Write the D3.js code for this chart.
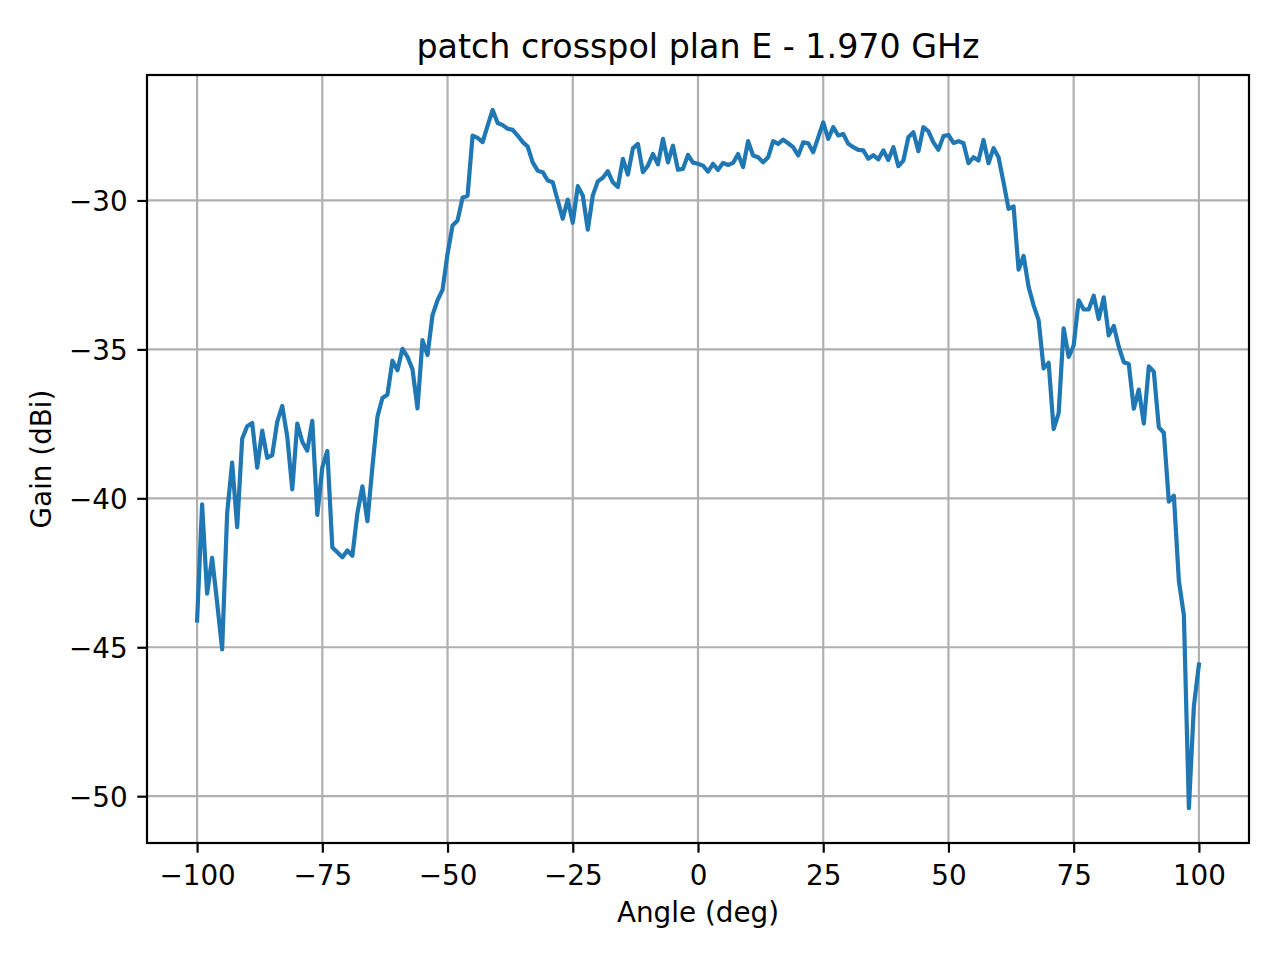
<!DOCTYPE html>
<html>
<head>
<meta charset="utf-8">
<script src="https://cdn.jsdelivr.net/npm/d3@7"></script>
<style>
  body { margin: 0; background: #fff; }
  text { font-family: "DejaVu Sans", sans-serif; fill: #000; }
</style>
</head>
<body>
<div id="chart"></div>
<script>
var angles = [
  -100,-99,-98,-97,-96,-95,-94,-93,-92,-91,-90,-89,-88,-87,-86,-85,-84,-83,-82,-81,
  -80,-79,-78,-77,-76,-75,-74,-73,-72,-71,-70,-69,-68,-67,-66,-65,-64,-63,-62,-61,
  -60,-59,-58,-57,-56,-55,-54,-53,-52,-51,-50,-49,-48,-47,-46,-45,-44,-43,-42,-41,
  -40,-39,-38,-37,-36,-35,-34,-33,-32,-31,-30,-29,-28,-27,-26,-25,-24,-23,-22,-21,
  -20,-19,-18,-17,-16,-15,-14,-13,-12,-11,-10,-9,-8,-7,-6,-5,-4,-3,-2,-1,
  0,1,2,3,4,5,6,7,8,9,10,11,12,13,14,15,16,17,18,19,
  20,21,22,23,24,25,26,27,28,29,30,31,32,33,34,35,36,37,38,39,
  40,41,42,43,44,45,46,47,48,49,50,51,52,53,54,55,56,57,58,59,
  60,61,62,63,64,65,66,67,68,69,70,71,72,73,74,75,76,77,78,79,
  80,81,82,83,84,85,86,87,88,89,90,91,92,93,94,95,96,97,98,99,
  100
];
var gain = [
  -44.1,-40.2,-43.2,-42.0,-43.5,-45.07,-40.5,-38.8,-40.97,-38.0,
  -37.58,-37.47,-38.97,-37.73,-38.64,-38.55,-37.43,-36.9,-37.93,-39.7,
  -37.49,-38.1,-38.4,-37.4,-40.56,-38.96,-38.41,-41.65,-41.81,-41.98,
  -41.75,-41.93,-40.5,-39.6,-40.77,-38.95,-37.26,-36.63,-36.52,-35.38,
  -35.7,-34.98,-35.25,-35.67,-36.98,-34.69,-35.19,-33.85,-33.35,-33.0,
  -31.79,-30.84,-30.67,-29.91,-29.84,-27.82,-27.9,-28.04,-27.49,-26.96,
  -27.4,-27.47,-27.59,-27.63,-27.82,-28.04,-28.19,-28.72,-29.0,-29.05,
  -29.33,-29.39,-30.0,-30.61,-29.97,-30.75,-29.52,-29.83,-30.98,-29.83,
  -29.36,-29.24,-29.02,-29.39,-29.55,-28.6,-29.13,-28.25,-28.1,-29.05,
  -28.83,-28.44,-28.79,-27.93,-28.72,-28.16,-28.97,-28.94,-28.47,-28.73,
  -28.77,-28.83,-29.03,-28.77,-28.97,-28.74,-28.81,-28.74,-28.44,-28.88,
  -28.01,-28.49,-28.55,-28.72,-28.55,-28.01,-28.1,-27.96,-28.08,-28.21,
  -28.49,-28.05,-28.08,-28.38,-27.88,-27.38,-27.93,-27.54,-27.82,-27.77,
  -28.1,-28.21,-28.3,-28.32,-28.6,-28.48,-28.62,-28.32,-28.64,-28.21,
  -28.85,-28.66,-27.88,-27.71,-28.35,-27.54,-27.68,-28.05,-28.3,-27.84,
  -27.8,-28.07,-28.01,-28.08,-28.75,-28.55,-28.66,-27.97,-28.75,-28.24,
  -28.55,-29.39,-30.28,-30.2,-32.32,-31.86,-32.9,-33.52,-34.02,-35.64,
  -35.45,-37.68,-37.14,-34.29,-35.25,-34.87,-33.35,-33.66,-33.66,-33.2,
  -33.98,-33.25,-34.53,-34.21,-34.91,-35.43,-35.49,-36.99,-36.35,-37.49,
  -35.57,-35.75,-37.62,-37.8,-40.11,-39.91,-42.77,-43.92,-50.4,-46.97,
  -45.58
];
var xTicks = [-100, -75, -50, -25, 0, 25, 50, 75, 100];
var yTicks = [-50, -45, -40, -35, -30];
var title = "patch crosspol plan E - 1.970 GHz";
var xLabel = "Angle (deg)";
var yLabel = "Gain (dBi)";

var width = 1280, height = 960;
var margin = {top: 75, right: 31, bottom: 117, left: 147};
var w = width - margin.left - margin.right,
    h = height - margin.top - margin.bottom;
var lw = 2.2; // 0.8pt at 200 dpi

var svg = d3.select("#chart").append("svg")
    .attr("width", width)
    .attr("height", height);
svg.append("rect").attr("width", width).attr("height", height).attr("fill", "#fff");

var g = svg.append("g").attr("transform", "translate(" + margin.left + "," + margin.top + ")");

// matplotlib style 5% margins
var xExt = d3.extent(angles), yExt = d3.extent(gain);
var xPad = (xExt[1] - xExt[0]) * 0.05, yPad = (yExt[1] - yExt[0]) * 0.05;
var x = d3.scaleLinear().domain([xExt[0] - xPad, xExt[1] + xPad]).range([0, w]);
var y = d3.scaleLinear().domain([yExt[0] - yPad, yExt[1] + yPad]).range([h, 0]);

var fmt = function(d) { return d < 0 ? "\u2212" + Math.abs(d) : String(d); };

// grid
g.append("g").selectAll("line").data(xTicks).join("line")
    .attr("x1", d => x(d)).attr("x2", d => x(d))
    .attr("y1", 0).attr("y2", h)
    .attr("stroke", "#b0b0b0").attr("stroke-width", lw);
g.append("g").selectAll("line").data(yTicks).join("line")
    .attr("y1", d => y(d)).attr("y2", d => y(d))
    .attr("x1", 0).attr("x2", w)
    .attr("stroke", "#b0b0b0").attr("stroke-width", lw);

// data line
var line = d3.line()
    .x(function(d, i) { return x(angles[i]); })
    .y(function(d) { return y(d); });
g.append("path")
    .datum(gain)
    .attr("d", line)
    .attr("fill", "none")
    .attr("stroke", "#1f77b4")
    .attr("stroke-width", 4.2)
    .attr("stroke-linejoin", "round")
    .attr("stroke-linecap", "square");

// axes
var xAxis = g.append("g")
    .attr("transform", "translate(0," + h + ")")
    .call(d3.axisBottom(x).tickValues(xTicks).tickFormat(fmt).tickSize(9.7).tickPadding(9.7));
var yAxis = g.append("g")
    .call(d3.axisLeft(y).tickValues(yTicks).tickFormat(fmt).tickSize(9.7).tickPadding(9.7));
[xAxis, yAxis].forEach(function(a) {
    a.select(".domain").remove();
    a.selectAll(".tick line").attr("stroke", "#000").attr("stroke-width", lw);
    a.selectAll(".tick text")
        .style("font-family", "'DejaVu Sans', sans-serif")
        .style("font-size", "27.8px")
        .attr("fill", "#000");
});
xAxis.selectAll(".tick text").attr("dy", "0.81em");
yAxis.selectAll(".tick text").attr("dy", "0.36em");

// frame
g.append("rect")
    .attr("width", w).attr("height", h)
    .attr("fill", "none")
    .attr("stroke", "#000")
    .attr("stroke-width", lw);

// labels
svg.append("text")
    .attr("x", margin.left + w / 2).attr("y", 58)
    .attr("text-anchor", "middle")
    .style("font-size", "33.3px")
    .text(title);
svg.append("text")
    .attr("x", margin.left + w / 2).attr("y", 922)
    .attr("text-anchor", "middle")
    .style("font-size", "27.8px")
    .text(xLabel);
svg.append("text")
    .attr("transform", "translate(51," + (margin.top + h / 2) + ") rotate(-90)")
    .attr("text-anchor", "middle")
    .style("font-size", "27.8px")
    .text(yLabel);
</script>
</body>
</html>
